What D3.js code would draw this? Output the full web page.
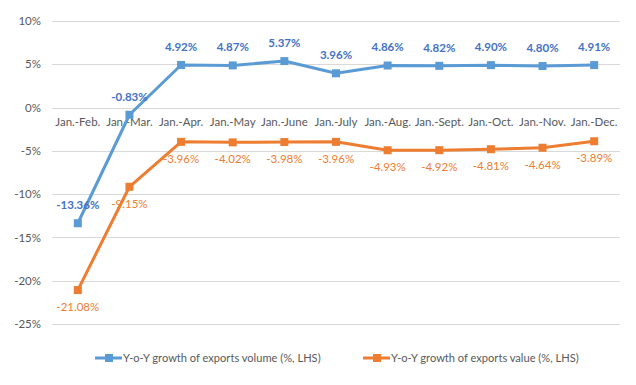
<!DOCTYPE html>
<html>
<head>
<meta charset="utf-8">
<script src="https://cdn.jsdelivr.net/npm/d3@7"></script>
<style>
  body { margin: 0; background: #fff; }
  text { font-family: Lato, "Open Sans", sans-serif; }
</style>
</head>
<body>
<div id="chart"></div>
<script>
// data
var categories = ["Jan.-Feb.", "Jan.-Mar.", "Jan.-Apr.", "Jan.-May", "Jan.-June", "Jan.-July",
                  "Jan.-Aug.", "Jan.-Sept.", "Jan.-Oct.", "Jan.-Nov.", "Jan.-Dec."];
var volume = [-13.36, -0.83, 4.92, 4.87, 5.37, 3.96, 4.86, 4.82, 4.90, 4.80, 4.91];
var value = [-21.08, -9.15, -3.96, -4.02, -3.98, -3.96, -4.93, -4.92, -4.81, -4.64, -3.89];
var yTicks = [10, 5, 0, -5, -10, -15, -20, -25];
var seriesNames = ["Y-o-Y growth of exports volume (%, LHS)", "Y-o-Y growth of exports value (%, LHS)"];

var W = 636, H = 385;
var margin = {top: 21, right: 16, bottom: 61, left: 52};
var width = W - margin.left - margin.right,
    height = H - margin.top - margin.bottom;

var svg = d3.select("#chart").append("svg")
  .attr("width", W)
  .attr("height", H);

var g = svg.append("g")
  .attr("transform", "translate(" + margin.left + "," + margin.top + ")");

var x = d3.scaleBand().domain(categories).range([0, width]);
var y = d3.scaleLinear().domain([-25, 10]).range([height, 0]);

// gridlines
g.selectAll(".grid")
  .data(yTicks)
  .enter()
  .append("line")
  .attr("x1", 0)
  .attr("x2", width)
  .attr("y1", function (d) { return Math.round(y(d)) + 0.5; })
  .attr("y2", function (d) { return Math.round(y(d)) + 0.5; })
  .style("stroke", "#d9d9d9")
  .style("stroke-width", 1);

// y axis labels
var yAxis = g.append("g")
  .call(d3.axisLeft(y).tickValues(yTicks).tickSize(0).tickPadding(11)
    .tickFormat(function (d) { return d + "%"; }));
yAxis.select(".domain").remove();
yAxis.selectAll("text")
  .style("font-size", "11.5px")
  .style("fill", "#595959");

// x axis labels, sit under the 0% line
var xAxis = g.append("g")
  .attr("transform", "translate(0," + y(0) + ")")
  .call(d3.axisBottom(x).tickSize(0).tickPadding(10));
xAxis.select(".domain").remove();
xAxis.selectAll("text")
  .style("font-size", "11.5px")
  .style("fill", "#595959");

function cx(d, i) { return x(categories[i]) + x.bandwidth() / 2; }

var series = [
  {name: seriesNames[0], data: volume, color: "#5b9bd5", label: "#4472c4", dy: -14, weight: "bold"},
  {name: seriesNames[1], data: value, color: "#ed7d31", label: "#ed7d31", dy: 21, weight: "normal"}
];

var line = d3.line()
  .x(cx)
  .y(function (d) { return y(d); });

series.forEach(function (s) {
  g.append("path")
    .datum(s.data)
    .attr("d", line)
    .style("fill", "none")
    .style("stroke", s.color)
    .style("stroke-width", 3)
    .style("stroke-linejoin", "round");

  g.selectAll(null)
    .data(s.data)
    .enter()
    .append("rect")
    .attr("x", function (d, i) { return cx(d, i) - 4; })
    .attr("y", function (d) { return y(d) - 4; })
    .attr("width", 8)
    .attr("height", 8)
    .style("fill", s.color);

  g.selectAll(null)
    .data(s.data)
    .enter()
    .append("text")
    .attr("x", cx)
    .attr("y", function (d) { return y(d) + s.dy; })
    .attr("text-anchor", "middle")
    .style("font-size", "11.5px")
    .style("font-weight", s.weight)
    .style("fill", s.label)
    .text(function (d) { return d.toFixed(2) + "%"; });
});

// legend
var legendX = [95, 363];
series.forEach(function (s, i) {
  var lg = svg.append("g").attr("transform", "translate(" + legendX[i] + ",358)");
  lg.append("line")
    .attr("x1", 0).attr("x2", 27)
    .attr("y1", 0).attr("y2", 0)
    .style("stroke", s.color)
    .style("stroke-width", 3);
  lg.append("rect")
    .attr("x", 10).attr("y", -4)
    .attr("width", 8).attr("height", 8)
    .style("fill", s.color);
  lg.append("text")
    .attr("x", 28)
    .attr("y", 4)
    .style("font-size", "11.1px")
    .style("fill", "#595959")
    .text(s.name);
});
</script>
</body>
</html>
